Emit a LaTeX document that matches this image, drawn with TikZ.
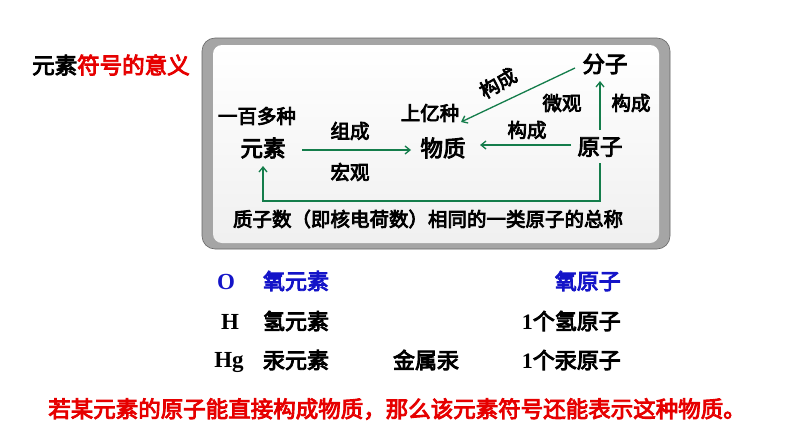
\documentclass[tikz,border=0pt]{standalone}
\usepackage{fontspec}
\setmainfont{Liberation Serif}
\newfontfamily\cjk{Noto Sans CJK SC}[FakeBold=4]
\usetikzlibrary{arrows.meta}
\definecolor{arrowgreen}{RGB}{20,125,75}
\definecolor{txtred}{RGB}{230,0,0}
\definecolor{txtblue}{RGB}{20,20,200}
\definecolor{framegray}{RGB}{165,165,165}
\begin{document}
\begin{tikzpicture}[x=1pt,y=-1pt,
  cn/.style={font=\cjk\fontsize{19.5}{22}\selectfont, inner sep=0pt},
  big/.style={font=\cjk\fontsize{22.5}{25}\selectfont, inner sep=0pt},
  row/.style={font=\cjk\fontsize{22}{24}\selectfont, inner sep=0pt},
  sym/.style={font=\bfseries\fontsize{23}{25}\selectfont, inner sep=0pt},
  garrow/.style={draw=arrowgreen, line width=1.3pt, -{Straight Barb[length=5pt,width=8pt,line width=1.3pt]}}]
\useasboundingbox (0,0) rectangle (794,447);
% frame
\fill[framegray, rounded corners=13pt] (202,38) rectangle (670,249);
\draw[rounded corners=13pt, draw=gray!80!black, line width=0.6pt] (202,38) rectangle (670,249);
\shade[top color=white, bottom color=gray!12, rounded corners=9pt] (213,45) rectangle (659,243);
% title
\node[big, anchor=west] (title) at (32,65) {元素\textcolor{txtred}{符号的意义}};
% nodes
\node[cn] (baiduo) at (257,116) {一百多种};
\node[big] (yuansu) at (263,148) {元素};
\node[cn] (shangyi) at (430,113) {上亿种};
\node[big] (wuzhi) at (443,148) {物质};
\node[big] (yuanzi) at (600,147) {原子};
\node[big] (fenzi) at (605,64) {分子};
\node[cn] (zucheng) at (350,131) {组成};
\node[cn] (hongguan) at (350,172) {宏观};
\node[cn] (weiguan) at (562,103) {微观};
\node[cn] (gc1) at (527,130) {构成};
\node[cn] (gc2) at (631,103) {构成};
\node[cn, rotate=30] (gc3) at (498,83) {构成};
\node[cn] (bottom) at (428,219) {质子数（即核电荷数）相同的一类原子的总称};
% connectors
\coordinate (e1) at (302,150);
\coordinate (e2) at (411,150);
\draw[garrow] (e1) -- (e2);
\coordinate (a1) at (571,145);
\coordinate (a2) at (480,145);
\draw[garrow] (a1) -- (a2);
\coordinate (f1) at (575,68);
\coordinate (f2) at (461,122);
\draw[garrow] (f1) -- (f2);
\coordinate (u1) at (600,130);
\coordinate (u2) at (600,81);
\draw[garrow] (u1) -- (u2);
\coordinate (l1) at (600,163);
\coordinate (l2) at (600,201);
\coordinate (l3) at (263,201);
\coordinate (l4) at (263,166);
\draw[garrow] (l1) -- (l2) -- (l3) -- (l4);
% lower table
\node[sym, text=txtblue, anchor=base] (O) at (226,289) {O};
\node[row, text=txtblue] (oy) at (296,281) {氧元素};
\node[row, text=txtblue, anchor=east] (oa) at (621,281) {氧原子};
\node[sym, anchor=base] (H) at (230,329) {H};
\node[row] (hy) at (296,321) {氢元素};
\node[row, anchor=east] (ha) at (621,321) {{\rmfamily\bfseries 1}个氢原子};
\node[sym, anchor=base] (Hg) at (229,367) {Hg};
\node[row] (gy) at (296,360) {汞元素};
\node[row] (gm) at (426,360) {金属汞};
\node[row, anchor=east] (ga) at (621,360) {{\rmfamily\bfseries 1}个汞原子};
% red statement
\node[cn, font=\cjk\fontsize{22.5}{25}\selectfont, text=txtred] (stmt) at (397,409) {若某元素的原子能直接构成物质，那么该元素符号还能表示这种物质。};
\end{tikzpicture}
\end{document}
